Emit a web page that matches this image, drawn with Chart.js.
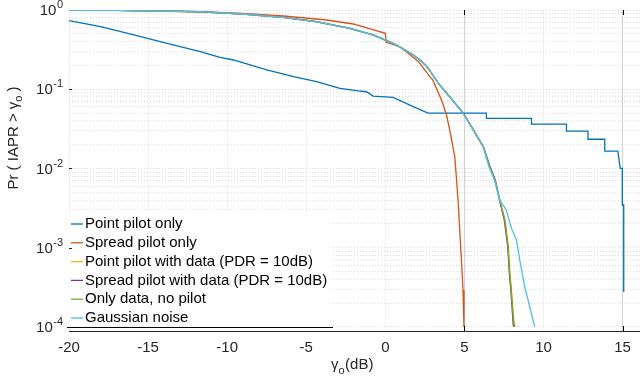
<!DOCTYPE html>
<html><head><meta charset="utf-8">
<script src="https://cdn.jsdelivr.net/npm/chart.js@4/dist/chart.umd.min.js"></script>
<style>html,body{margin:0;padding:0;background:#fff}#wrap{width:640px;height:381px;position:relative}</style>
</head><body><div id="wrap"><canvas id="c" width="640" height="381"></canvas></div>
<script>
const seriesLabels = ['Point pilot only','Spread pilot only','Point pilot with data (PDR = 10dB)','Spread pilot with data (PDR = 10dB)','Only data, no pilot','Gaussian noise'];
const seriesColors = ['#0072BD','#D95319','#EDB120','#7E2F8E','#77AC30','#4DBEEE'];
const xTickValues = [-20,-15,-10,-5,0,5,10,15];
const yDecadeValues = [1,0.1,0.01,0.001,0.0001];
const yDecadeExps = ['0','-1','-2','-3','-4'];

const pointPilotX = [-20,-18,-15.9,-13.8,-11.7,-10.45,-9.6,-7.5,-5.8,-4.35,-2.87,-1.82,-1.19,-0.77,0.49,1.76,2.7,6.39,6.39,9.24,9.24,11.45,11.45,12.81,12.81,13.87,13.87,14.7,14.85,14.98,14.98,15.07,15.07];
const pointPilotY = [0.733,0.616,0.484,0.38,0.298,0.253,0.234,0.175,0.144,0.1245,0.1028,0.096,0.093,0.082,0.079,0.0603,0.05,0.05,0.043,0.043,0.0364,0.0364,0.0297,0.0297,0.0234,0.0234,0.0166,0.0166,0.01006,0.01006,0.00346,0.00346,0.000277];

const spreadPilotX = [-20,-17,-14,-11.7,-9,-6.46,-3.7,-2.03,0.0,0.05,0.93,2.1,2.81,3.0,3.55,3.87,4.07,4.39,4.55,4.6,4.7,4.81,4.91,4.97];
const spreadPilotY = [1.0,0.99,0.97,0.952,0.903,0.84,0.748,0.666,0.508,0.391,0.344,0.223,0.144,0.131,0.0732,0.0473,0.0306,0.0141,0.00535,0.004,0.00168,0.0007,0.000293,0.0001];

const pointDataX = [-20,-17,-14,-11.7,-9,-6.46,-4.35,-2.24,-0.77,0.49,0.93,1.76,2.2,2.6,3.0,3.44,4.07,4.91,5.55,6.18,6.6,6.94,7.25,7.57,7.78,7.88,7.99,8.14,8.18];
const pointDataY = [1.0,0.99,0.966,0.95,0.888,0.808,0.711,0.587,0.483,0.38,0.341,0.27,0.234,0.1965,0.151,0.113,0.0805,0.0501,0.0306,0.0188,0.01054,0.00716,0.004,0.00224,0.00103,0.000476,0.000266,0.00011,0.0001];

const spreadDataX = [-20,-17,-14,-11.7,-9,-6.46,-4.35,-2.24,-0.77,0.49,0.93,1.76,2.2,2.6,3.0,3.44,4.07,4.93,5.58,6.2,6.62,6.95,7.22,7.52,7.74,7.84,7.95,8.08,8.11];
const spreadDataY = [1.0,0.99,0.967,0.951,0.889,0.809,0.712,0.588,0.484,0.38,0.341,0.27,0.234,0.1965,0.151,0.113,0.0805,0.0501,0.0306,0.0188,0.01054,0.00716,0.004,0.00224,0.00103,0.000476,0.000266,0.00011,0.0001];

const onlyDataX = [-20,-17,-14,-11.7,-9,-6.46,-4.35,-2.24,-0.77,0.49,0.93,1.76,2.2,2.6,3.0,3.44,4.07,4.91,5.56,6.19,6.6,6.93,7.23,7.55,7.76,7.86,7.97,8.12,8.15];
const onlyDataY = [1.0,0.99,0.965,0.948,0.886,0.806,0.71,0.586,0.482,0.379,0.34,0.27,0.234,0.1965,0.151,0.113,0.0805,0.0501,0.0306,0.0188,0.01054,0.00716,0.004,0.00224,0.00103,0.000476,0.000266,0.00011,0.0001];

const gaussianX = [-20,-17,-14,-11.7,-9,-6.46,-4.35,-2.24,-0.77,0.49,0.93,1.76,2.2,2.6,3.0,3.44,4.07,4.91,5.55,6.18,6.55,6.9,7.23,7.65,7.97,8.29,8.5,8.81,9.13,9.45];
const gaussianY = [1.0,0.99,0.97,0.952,0.89,0.809,0.712,0.588,0.484,0.38,0.341,0.27,0.234,0.1965,0.151,0.113,0.0805,0.0501,0.0306,0.0188,0.01054,0.00716,0.004,0.003,0.00176,0.00125,0.0007,0.000322,0.00018,0.0001];

const seriesX = [pointPilotX, spreadPilotX, pointDataX, spreadDataX, onlyDataX, gaussianX];
const seriesY = [pointPilotY, spreadPilotY, pointDataY, spreadDataY, onlyDataY, gaussianY];

const FONT = '"Liberation Sans", Arial, Helvetica, sans-serif';
const TXT = '#262626';
const Y_MIN = 8.9e-5;

const datasets = seriesLabels.map((label, i) => ({
  label,
  data: seriesX[i].map((x, j) => ({x, y: seriesY[i][j]})),
  borderColor: seriesColors[i],
  backgroundColor: seriesColors[i],
  borderWidth: 1.3,
  pointRadius: 0,
  tension: 0,
  fill: false,
  order: 5 - i
}));

const deco = {
  id: 'deco',
  beforeDraw(chart) {
    const c = chart.ctx;
    c.save(); c.fillStyle = '#fff'; c.fillRect(0, 0, chart.width, chart.height); c.restore();
  },
  afterDatasetsDraw(chart) {
    const c = chart.ctx;
    c.save();
    c.fillStyle = '#fff';
    c.fillRect(67, 212, 266, 115);
    c.strokeStyle = '#000'; c.lineWidth = 1;
    c.beginPath(); c.moveTo(67, 327.5); c.lineTo(333, 327.5); c.stroke();
    c.font = '15px ' + FONT; c.textBaseline = 'middle'; c.textAlign = 'left';
    seriesLabels.forEach((lab, i) => {
      const yy = 224 + i * 18.8;
      c.strokeStyle = seriesColors[i]; c.lineWidth = 1.3;
      c.beginPath(); c.moveTo(71, yy); c.lineTo(83, yy); c.stroke();
      c.fillStyle = '#000';
      c.fillText(lab, 85, yy);
    });
    c.restore();
  },
  afterDraw(chart) {
    const c = chart.ctx;
    const xs = chart.scales.x, ys = chart.scales.y;
    const area = chart.chartArea;
    c.save();
    c.fillStyle = TXT;
    yDecadeValues.forEach((v, i) => {
      const y = ys.getPixelForValue(v);
      c.font = '11px ' + FONT;
      const ew = c.measureText(yDecadeExps[i]).width;
      const right = 63;
      c.textAlign = 'left'; c.textBaseline = 'middle';
      c.fillText(yDecadeExps[i], right - ew, y - 5);
      c.font = '15px ' + FONT;
      c.textAlign = 'right';
      c.fillText('10', right - ew - 0.5, y + 1);
      if (i > 0 && i < 4) {
        c.strokeStyle = TXT; c.lineWidth = 1;
        c.beginPath(); c.moveTo(area.left, Math.round(y) + 0.5); c.lineTo(area.left + 3, Math.round(y) + 0.5); c.stroke();
      }
    });
    c.strokeStyle = '#000'; c.lineWidth = 1;
    [5, 15].forEach(v => {
      const x = Math.round(xs.getPixelForValue(v)) + 0.5;
      c.beginPath(); c.moveTo(x, area.top); c.lineTo(x, area.top + 5); c.stroke();
      c.beginPath(); c.moveTo(x, area.bottom); c.lineTo(x, area.bottom - 5); c.stroke();
    });
    c.fillStyle = TXT;
    c.textAlign = 'left'; c.textBaseline = 'alphabetic';
    let x0 = 331;
    c.font = '15px ' + FONT;
    c.fillText('\u03B3', x0, 369);
    x0 += c.measureText('\u03B3').width;
    c.font = '11px ' + FONT;
    c.fillText('o', x0, 374);
    x0 += c.measureText('o').width + 0.5;
    c.font = '15px ' + FONT;
    c.fillText('(dB)', x0, 369);
    c.save();
    c.translate(18, 138);
    c.rotate(-Math.PI / 2);
    const p1 = 'Pr ( IAPR > \u03B3', p2 = 'o', p3 = ' )';
    c.font = '15px ' + FONT; const w1 = c.measureText(p1).width, w3 = c.measureText(p3).width;
    c.font = '11px ' + FONT; const w2 = c.measureText(p2).width;
    let sx = -(w1 + w2 + w3) / 2;
    c.font = '15px ' + FONT; c.fillText(p1, sx, 0); sx += w1;
    c.font = '11px ' + FONT; c.fillText(p2, sx, 4); sx += w2;
    c.font = '15px ' + FONT; c.fillText(p3, sx, 0);
    c.restore();
    c.restore();
  }
};

new Chart(document.getElementById('c'), {
  type: 'line',
  data: { datasets },
  options: {
    responsive: false,
    animation: false,
    devicePixelRatio: 1,
    layout: { padding: { left: 0, right: 0, top: 10, bottom: 0 } },
    plugins: { legend: { display: false }, tooltip: { enabled: false } },
    scales: {
      x: {
        type: 'linear', min: -20, max: 16.1,
        afterBuildTicks: s => { s.ticks = xTickValues.map(v => ({value: v})); },
        afterFit: s => { s.height = 50; },
        ticks: { color: TXT, font: { family: FONT, size: 15 }, padding: 8, maxRotation: 0, autoSkip: false,
                 callback: v => String(v) },
        grid: { drawTicks: false, lineWidth: 1,
                color: ctx => (ctx.tick && (ctx.tick.value === 5 || ctx.tick.value === 15)) ? '#d2d2d2' : '#f2f2f2' },
        border: { display: true, color: '#262626', width: 1 }
      },
      y: {
        type: 'logarithmic', min: Y_MIN, max: 1,
        afterBuildTicks: s => {
          const t = [];
          for (let k = -4; k <= -1; k++) for (let m = 1; m <= 9; m++) { const v = m * Math.pow(10, k); if (v >= Y_MIN) t.push({value: v}); }
          t.push({value: 1});
          s.ticks = t;
        },
        afterFit: s => { s.width = 69; },
        ticks: { display: false },
        grid: { drawTicks: false, lineWidth: 1, color: '#dcdcdc' },
        border: { display: false, dash: [1, 2] }
      }
    }
  },
  plugins: [deco]
});
</script></body></html>
